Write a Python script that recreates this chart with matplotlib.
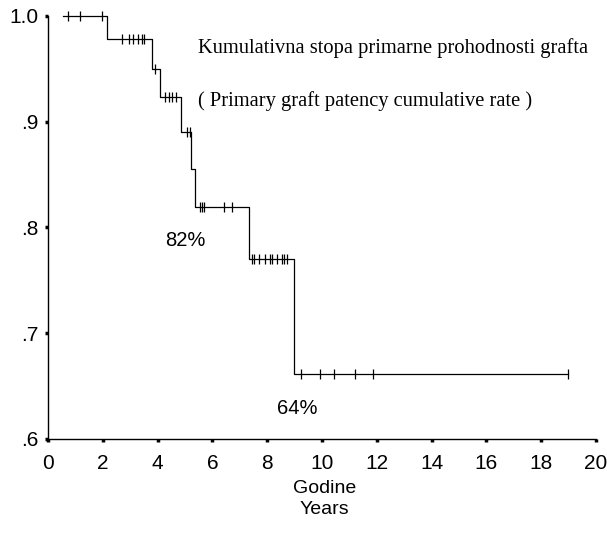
import numpy as np
import matplotlib.pyplot as plt

# Kaplan-Meier krivulja (ocitano sa slike)
step_times = [0.55, 2.16, 3.81, 4.09, 4.86, 5.23, 5.37, 7.32, 8.99, 18.96]
step_surv = [1.0, 0.978, 0.950, 0.923, 0.890, 0.855, 0.819, 0.770, 0.661, 0.661]

# cenzurirani slucajevi
censor_times = [0.73, 1.17, 1.97, 2.69, 2.94, 3.12, 3.28, 3.43, 3.49, 3.91,
                4.28, 4.40, 4.52, 4.67, 5.07, 5.17, 5.56, 5.62, 5.68, 6.43,
                6.72, 7.45, 7.53, 7.69, 7.91, 8.09, 8.18, 8.36, 8.54, 8.63,
                8.73, 9.25, 9.92, 10.43, 11.20, 11.86, 18.96]

x_ticks = [0, 2, 4, 6, 8, 10, 12, 14, 16, 18, 20]
y_ticks = [0.6, 0.7, 0.8, 0.9, 1.0]
y_tick_labels = ['.6', '.7', '.8', '.9', '1.0']

title_sr = 'Kumulativna stopa primarne prohodnosti grafta'
title_en = '( Primary graft patency cumulative rate )'

fig = plt.figure(figsize=(6.07, 5.46), dpi=100)
ax = fig.add_axes([0.079, 0.196, 0.903, 0.7747])

ax.step(step_times, step_surv, where='post', color='black', lw=0.9, clip_on=False)

idx = np.searchsorted(step_times, censor_times, side='right') - 1
censor_surv = np.array(step_surv)[idx]
ax.plot(censor_times, censor_surv, ls='none', marker='|', ms=6.5, mew=0.9,
        color='black', clip_on=False)

ax.set_xlim(0, 20)
ax.set_ylim(0.6, 1.0)
ax.set_xticks(x_ticks)
ax.set_xticklabels([str(t) for t in x_ticks])
ax.set_yticks(y_ticks)
ax.set_yticklabels(y_tick_labels)

for s in ['top', 'right']:
    ax.spines[s].set_visible(False)
for s in ['left', 'bottom']:
    ax.spines[s].set_linewidth(1.0)

ax.tick_params(axis='both', direction='out', length=2, width=2.5, labelsize=15)
ax.tick_params(axis='x', pad=9)
ax.tick_params(axis='y', pad=5)
for lab in ax.get_xticklabels() + ax.get_yticklabels():
    lab.set_fontfamily('Liberation Sans')

ax.text(0.273, 0.925, title_sr, transform=ax.transAxes, fontsize=14.8,
        family='Liberation Serif', va='center', ha='left')
ax.text(0.273, 0.80, title_en, transform=ax.transAxes, fontsize=14.8,
        family='Liberation Serif', va='center', ha='left')

ax.text(5.0, 0.788, '82%', fontsize=14.5, family='Liberation Sans',
        ha='center', va='center')
ax.text(9.1, 0.629, '64%', fontsize=14.5, family='Liberation Sans',
        ha='center', va='center')

fig.text(0.535, 0.106, 'Godine', fontsize=14, family='Liberation Sans',
         ha='center', va='center')
fig.text(0.535, 0.066, 'Years', fontsize=14, family='Liberation Sans',
         ha='center', va='center')

fig.savefig('out.png', dpi=100)
